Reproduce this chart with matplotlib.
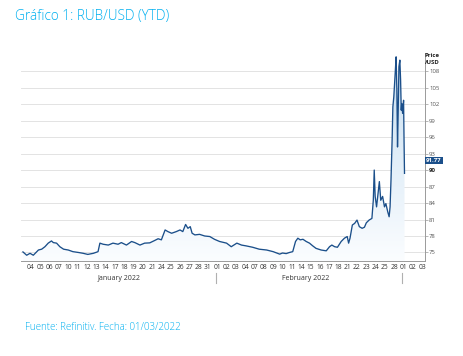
import numpy as np
import matplotlib
matplotlib.use("Agg")
import matplotlib.pyplot as plt
from matplotlib.patches import Polygon

plt.rcParams['font.family'] = ['Open Sans', 'DejaVu Sans']

# trading-day labels shown on the x axis (one per session)
day_labels = ['04', '05', '06', '07', '10', '11', '12', '13', '14', '17', '18', '19', '20', '21',
              '24', '25', '26', '27', '28', '31',
              '01', '02', '03', '04', '07', '08', '09', '10', '11', '14', '15', '16', '17', '18',
              '21', '22', '23', '24', '25', '28',
              '01', '02', '03']
months = ['January 2022', 'February 2022']
month_start = [0, 20, 40]   # index of first session of Jan, Feb, Mar

# time in trading sessions since 04 Jan (fractional = intraday) and RUB per USD
t_days = [-0.86, -0.46, -0.1, 0.25, 0.6, 0.8, 1.15, 1.5, 1.85, 2.2, 2.4, 2.75, 3.1, 3.5,
          4.0, 4.5, 5.1, 5.6, 6.1, 6.7, 7.2, 7.4, 7.75, 8.3, 8.8, 9.35, 9.7, 10.25, 10.8,
          11.15, 11.7, 12.2, 12.75, 13.3, 13.65, 14.0, 14.4, 14.7, 15.1, 15.6, 16.0, 16.3,
          16.6, 16.85, 17.1, 17.3, 17.6, 18.1, 18.65, 19.2, 19.7, 20.25, 21.0, 21.5, 22.1,
          22.6, 23.1, 23.8, 24.5, 25.3, 26.0, 26.7, 27.0, 27.4, 27.75, 28.1, 28.4, 28.65,
          28.9, 29.2, 29.55, 29.9, 30.25, 30.6, 31.15, 31.7, 32.05, 32.3, 32.6, 32.9, 33.3,
          33.65, 33.95, 34.1, 34.25, 34.5, 34.75, 35.0, 35.25, 35.55, 35.8, 36.0, 36.3,
          36.6, 36.75, 36.85, 36.95, 37.1, 37.4, 37.55, 37.75, 37.95, 38.1, 38.3, 38.45,
          38.55, 38.65, 38.77, 38.85, 38.95, 39.1, 39.2, 39.28, 39.35, 39.43, 39.5, 39.6,
          39.68, 39.75, 39.8, 39.9, 40.0, 40.05, 40.1]
rub = [75.1, 74.5, 74.85, 74.5, 75.1, 75.45, 75.6, 76.05, 76.7, 77.1, 76.8, 76.7, 76.05, 75.6,
       75.45, 75.15, 75.0, 74.85, 74.65, 74.85, 75.15, 76.7, 76.5, 76.35, 76.7, 76.5, 76.8, 76.35, 77.0,
       76.8, 76.35, 76.7, 76.75, 77.2, 77.5, 77.3, 79.1, 78.8, 78.5, 78.8, 79.1, 78.8,
       80.1, 79.4, 79.7, 78.5, 78.2, 78.3, 78.0, 77.9, 77.4, 77.0, 76.7, 76.05, 76.7,
       76.35, 76.2, 75.95, 75.6, 75.45, 75.15, 74.7, 74.9, 74.8, 75.0, 75.15, 77.0, 77.6,
       77.3, 77.4, 77.0, 76.7, 76.2, 75.75, 75.45, 75.3, 76.05, 76.35, 76.05, 75.95, 77.0,
       77.6, 77.9, 76.7, 77.6, 80.0, 80.3, 80.9, 79.7, 79.4, 79.6, 80.4, 80.9,
       81.2, 84.5, 90.0, 85.2, 83.3, 87.9, 84.5, 85.2, 83.3, 83.9, 82.4, 81.5,
       83.3, 88.2, 95.5, 101.5, 103.3, 107.6, 110.6, 104.5, 94.2, 101.5, 108.8, 110.0,
       106.4, 100.9, 102.1, 100.3, 102.7, 95.5, 89.4]
last_price = 91.77
y_ticks = list(range(75, 109, 3))

cyan = '#00b0f0'
navy = '#1b4f8a'

fig = plt.figure(figsize=(4.64, 3.56), dpi=100)
ax = fig.add_axes([21 / 464, 1 - 261 / 356, 404 / 464, 208 / 356])

x = np.array(t_days)
y = np.array(rub)
ymin, ymax = 73.45, 111.3
ax.set_xlim(-1.07, 42.3)
ax.set_ylim(ymin, ymax)

# gradient fill under the line
verts = [(x[0], ymin)] + list(zip(x, y)) + [(x[-1], ymin)]
poly = Polygon(verts, closed=True, facecolor='none', edgecolor='none')
ax.add_patch(poly)
grad = np.linspace(0, 1, 256).reshape(-1, 1)
cmap = matplotlib.colors.LinearSegmentedColormap.from_list('g', ['#fbfdff', '#c6def1'])
img = ax.imshow(grad, extent=[x[0], x[-1], ymin, ymax], origin='lower', aspect='auto',
                cmap=cmap, zorder=1)
img.set_clip_path(poly)

ax.plot(x, y, color=navy, lw=0.95, zorder=3)

# grid and axes
for v in y_ticks:
    ax.axhline(v, color='#e3e3e3', lw=0.7, zorder=0)
for s in ['left', 'top']:
    ax.spines[s].set_visible(False)
for s in ['right', 'bottom']:
    ax.spines[s].set_color('#9a9a9a')
    ax.spines[s].set_linewidth(0.7)

ax.yaxis.tick_right()
ax.set_yticks(y_ticks)
ax.set_yticklabels([str(v) for v in y_ticks], fontsize=4.3, color='#555555')
ax.tick_params(axis='y', length=2, width=0.5, color='#9a9a9a', pad=1)
for lab in ax.get_yticklabels():
    if lab.get_text() == '90':
        lab.set_color('#222222')
        lab.set_fontweight('bold')

ax.set_xticks(range(len(day_labels)))
ax.set_xticklabels(day_labels, fontsize=4.8, color='#333333')
ax.tick_params(axis='x', length=0, pad=2)

# month labels and separators
trans = ax.get_xaxis_transform()
for i, m in enumerate(months):
    c = (month_start[i] + month_start[i + 1] - 1) / 2
    ax.text(c, -0.085, m, transform=trans, ha='center', va='center', fontsize=5, color='#333333')
    ax.plot([month_start[i + 1] - 0.15] * 2, [-0.06, -0.105], transform=trans,
            color='#b0b0b0', lw=0.8, clip_on=False)

ax.text(1.0, 1.0, 'Price\n/USD', transform=ax.transAxes, ha='left', va='top',
        fontsize=4.3, fontweight='bold', color='#222222', linespacing=1.6)
ax.text(1.003, last_price, f'{last_price:.2f}', transform=ax.get_yaxis_transform(),
        ha='left', va='center', fontsize=4.3, fontweight='bold', color='white',
        bbox=dict(boxstyle='square,pad=0.15', fc=navy, ec='none'))

fig.text(15 / 464, 1 - 17 / 356, 'Gráfico 1: RUB/USD (YTD)', fontsize=9.8, color=cyan,
         fontweight='light', ha='left', va='center')
fig.text(25 / 464, 1 - 328 / 356, 'Fuente: Refinitiv. Fecha: 01/03/2022', fontsize=7,
         color=cyan, fontweight='light', ha='left', va='center')

fig.savefig('out.png', dpi=100)
